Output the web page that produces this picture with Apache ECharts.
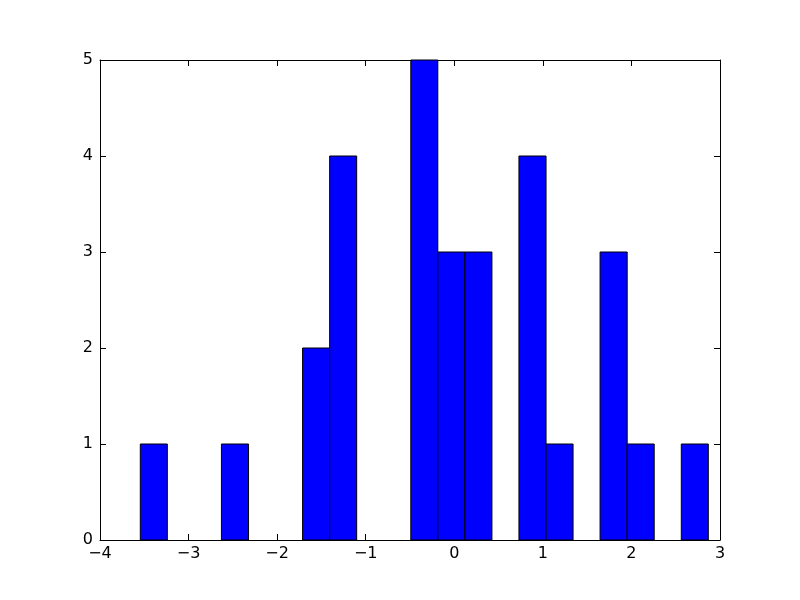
<!DOCTYPE html>
<html>
<head>
<meta charset="utf-8">
<script src="https://cdn.jsdelivr.net/npm/echarts@6/dist/echarts.min.js"></script>
<style>html,body{margin:0;padding:0;background:#fff}#c{width:800px;height:600px}</style>
</head>
<body>
<div id="c"></div>
<script>
// Histogram bin edges (22 edges -> 21 bins)
var binEdges = [-3.545, -3.240, -2.934, -2.629, -2.323, -2.018, -1.713, -1.407, -1.102, -0.797,
                -0.491, -0.186, 0.120, 0.425, 0.730, 1.036, 1.341, 1.646, 1.952, 2.257, 2.563, 2.868];
var counts = [1, 0, 0, 1, 0, 0, 2, 4, 0, 0, 5, 3, 3, 0, 4, 1, 0, 3, 1, 0, 1];
var xTicks = [-4, -3, -2, -1, 0, 1, 2, 3];
var yTicks = [0, 1, 2, 3, 4, 5];

var data = [];
for (var i = 0; i < counts.length; i++) {
  if (counts[i] > 0) data.push([binEdges[i], binEdges[i + 1], counts[i]]);
}

var fontFamily = 'DejaVu Sans';
function minus(v) { return String(v).replace('-', '\u2212'); }

var chart = echarts.init(document.getElementById('c'), null, {renderer: 'canvas'});
function axisCommon() {
  return {
    axisLine: {show: true, onZero: false, lineStyle: {color: '#000', width: 1}},
    splitLine: {show: false},
    axisTick: {show: true, inside: true, length: 6, lineStyle: {color: '#000', width: 1}}
  };
}
chart.setOption({
  animation: false,
  backgroundColor: '#fff',
  grid: {left: 100, right: 80, top: 60, bottom: 60},
  xAxis: [
    Object.assign({type: 'value', min: xTicks[0], max: xTicks[xTicks.length - 1], interval: 1, position: 'bottom',
      axisLabel: {color: '#000', fontFamily: fontFamily, fontSize: 16, margin: 6, formatter: minus}}, axisCommon()),
    Object.assign({type: 'value', min: xTicks[0], max: xTicks[xTicks.length - 1], interval: 1, position: 'top',
      axisLabel: {show: false}}, axisCommon())
  ],
  yAxis: [
    Object.assign({type: 'value', min: yTicks[0], max: yTicks[yTicks.length - 1], interval: 1, position: 'left',
      axisLabel: {color: '#000', fontFamily: fontFamily, fontSize: 16, margin: 7, formatter: minus}}, axisCommon()),
    Object.assign({type: 'value', min: yTicks[0], max: yTicks[yTicks.length - 1], interval: 1, position: 'right',
      axisLabel: {show: false}}, axisCommon())
  ],
  series: [{
    type: 'custom',
    xAxisIndex: 0,
    yAxisIndex: 0,
    z: 1,
    renderItem: function (params, api) {
      var p0 = api.coord([api.value(0), api.value(2)]);
      var p1 = api.coord([api.value(1), 0]);
      return {
        type: 'rect',
        shape: {x: p0[0], y: p0[1], width: p1[0] - p0[0], height: p1[1] - p0[1]},
        style: {fill: '#0000ff', stroke: '#000', lineWidth: 1}
      };
    },
    encode: {x: [0, 1], y: 2},
    data: data
  }]
});
</script>
</body>
</html>
